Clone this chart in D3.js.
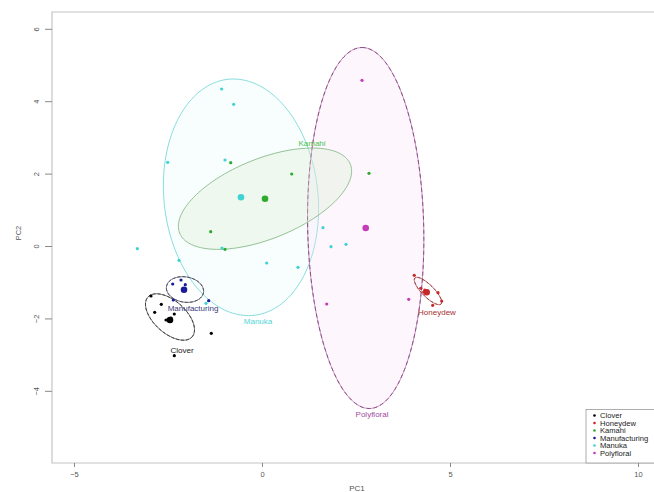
<!DOCTYPE html>
<html><head><meta charset="utf-8">
<script src="https://cdn.jsdelivr.net/npm/d3@7"></script>
<style>body{margin:0;background:#fff}svg{display:block;font-family:"Liberation Sans",Arial,sans-serif}</style>
</head><body><svg id="c" width="654" height="492"></svg>
<script>
// ---- data ----
const groups = ["Clover","Honeydew","Kamahi","Manufacturing","Manuka","Polyfloral"];
const cloverX = [-2.952,-2.678,-2.854,-2.332,-2.553,-2.42,-1.348,-2.332];
const cloverY = [-1.381,-1.611,-1.831,-1.878,-2.044,-1.99,-2.412,-3.030];
const honeydewX = [4.050,4.681,4.779,4.540,4.223,4.30,4.33];
const honeydewY = [-0.809,-1.290,-1.519,-1.638,-1.167,-1.271,-1.215];
const kamahiX = [-0.832,0.790,-1.364,-0.984,2.846];
const kamahiY = [2.301,1.989,0.395,-0.091,2.008];
const manufX = [-2.375,-2.154,-2.040,-2.359,-1.418];
const manufY = [-1.050,-0.939,-1.069,-1.492,-1.511];
const manukaX = [-1.072,-0.753,-2.508,-0.984,-3.316,-2.207,-1.064,0.125,0.957,1.622,1.835,2.234,-1.489];
const manukaY = [4.337,3.914,2.312,2.376,-0.075,-0.395,-0.055,-0.470,-0.588,0.506,-0.019,0.047,-1.583];
const polyX = [2.660,1.721,3.902];
const polyY = [4.577,-1.602,-1.472];
// group centroids
const centX = [-2.447,4.380,0.080,-2.074,-0.559,2.758];
const centY = [-2.044,-1.279,1.307,-1.207,1.345,0.497];
// ellipses (data units): centre and two half-axis vectors
const ellCX = [-2.447,4.415,0.080,-2.048,-0.559,2.758];
const ellCY = [-1.961,-1.243,1.307,-1.202,1.345,0.497];
const ellU = [[0.585,-0.552],[0.346,-0.359],[2.269,0.953],[0.492,-0.083],[-0.346,3.260],[-0.106,4.986]];
const ellV = [[0.287,0.326],[0.112,0.116],[0.399,-1.025],[-0.053,-0.345],[2.035,0.232],[1.543,0.036]];
// ellipse label positions
const labX = [-2.128,4.654,1.330,-1.835,-0.106,2.926];
const labY = [-2.873,-1.823,2.845,-1.713,-2.072,-4.641];
const xTicks = [-5,0,5,10];
const yTicks = [-4,-2,0,2,4,6];

// ---- styles ----
const ptCol = ["#000000","#c62828","#2eaa2e","#1a1a9a","#3fd3d3","#c43cb8"];
const labCol = ["#222222","#a83232","#4cc24c","#3a3a7a","#4fd6d6","#a24aa2"];
const ellFill = ["none","none","rgba(215,235,205,0.3)","none","rgba(225,250,250,0.22)","rgba(248,228,248,0.28)"];
const ellStroke = ["#555","#b05050","#88bb88","#555577","#7ad8d8","#c080c0"];
const ellDash = [["#222","3,2"],["#8a2020","3,2"],null,["#333","3,2"],null,["#7a3a6a","4,3"]];

const svg = d3.select("#c");
const x = d3.scaleLinear().domain([-5.585,10.585]).range([52,660]);
const y = d3.scaleLinear().domain([-5.994,6.464]).range([463,12]);

const groupPts = [[cloverX,cloverY],[honeydewX,honeydewY],[kamahiX,kamahiY],[manufX,manufY],[manukaX,manukaY],[polyX,polyY]];

// ellipses: draw large ones first
const order = [4,5,2,0,3,1];
const ellLine = d3.line().x(d=>x(d[0])).y(d=>y(d[1])).curve(d3.curveLinearClosed);
order.forEach(i=>{
  const pts = d3.range(0,360,2).map(a=>{const t=a*Math.PI/180;
    return [ellCX[i]+Math.cos(t)*ellU[i][0]+Math.sin(t)*ellV[i][0], ellCY[i]+Math.cos(t)*ellU[i][1]+Math.sin(t)*ellV[i][1]];});
  svg.append("path").attr("d",ellLine(pts)).attr("fill",ellFill[i]).attr("stroke",ellStroke[i]).attr("stroke-width",0.9);
  if(ellDash[i]) svg.append("path").attr("d",ellLine(pts)).attr("fill","none").attr("stroke",ellDash[i][0]).attr("stroke-width",0.8).attr("stroke-dasharray",ellDash[i][1]);
});

// frame
svg.append("path").attr("d",`M${x(10.585)},${y(6.464)}H${x(-5.585)}V${y(-5.994)}H${x(10.585)}`).attr("fill","none").attr("stroke","#c4c4c4").attr("stroke-width",1.2);

// points
groupPts.forEach((g,i)=>{
  svg.append("g").selectAll("circle").data(g[0].map((v,k)=>[v,g[1][k]])).join("circle")
    .attr("cx",d=>x(d[0])).attr("cy",d=>y(d[1])).attr("r",1.6).attr("fill",ptCol[i]);
});
svg.append("g").selectAll("circle").data(centX.map((v,k)=>[v,centY[k],k])).join("circle")
  .attr("cx",d=>x(d[0])).attr("cy",d=>y(d[1])).attr("r",3.3).attr("fill",d=>ptCol[d[2]]);

// ellipse labels
svg.append("g").selectAll("text").data(groups).join("text")
  .attr("x",(d,i)=>x(labX[i])).attr("y",(d,i)=>y(labY[i])+3).attr("text-anchor","middle")
  .attr("font-size",8).attr("fill",(d,i)=>labCol[i]).text(d=>d);

// axes
const xa = svg.append("g").attr("transform","translate(0,463)")
  .call(d3.axisBottom(x).tickValues(xTicks).tickSize(4).tickPadding(5).tickFormat(d3.format("d")));
const ya = svg.append("g").attr("transform","translate(52,0)")
  .call(d3.axisLeft(y).tickValues(yTicks).tickSize(7).tickFormat(d3.format("d")));
[xa,ya].forEach(a=>{a.select(".domain").remove();a.selectAll("line").attr("stroke","#888");
  a.selectAll("text").attr("fill","#555").attr("font-size",7.5).attr("font-family","Liberation Sans, Arial, sans-serif");});
ya.selectAll(".tick text").attr("dy",null).attr("text-anchor","middle")
  .attr("transform","translate(-16,0) rotate(-90)").attr("y",3).attr("x",0);

svg.append("text").attr("transform","translate(21,233) rotate(-90)").attr("text-anchor","middle")
  .attr("font-size",7.5).attr("fill","#555").text("PC2");
svg.append("text").attr("x",357).attr("y",491).attr("text-anchor","middle")
  .attr("font-size",8).attr("fill","#555").text("PC1");

// legend
const lg = svg.append("g");
lg.append("rect").attr("x",586).attr("y",409.5).attr("width",80).attr("height",53.5).attr("fill","#fff").attr("stroke","#999").attr("stroke-width",0.8);
groups.forEach((g,i)=>{
  lg.append("circle").attr("cx",594.5).attr("cy",415.5+i*7.5).attr("r",1.3).attr("fill",ptCol[i]);
  lg.append("text").attr("x",600).attr("y",418+i*7.5).attr("font-size",7.6).attr("fill","#222").text(g);
});
</script></body></html>
